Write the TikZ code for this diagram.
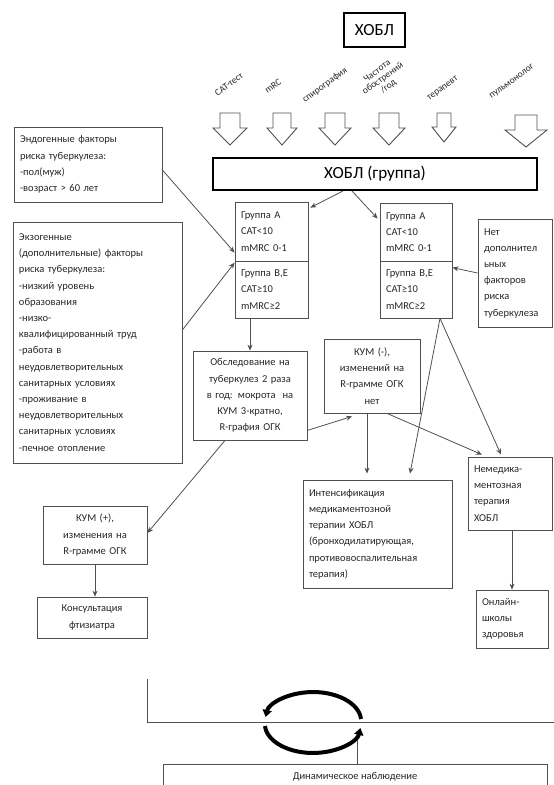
\documentclass[tikz,border=0pt]{standalone}
\usepackage{fontspec}
\setmainfont{Carlito}
\usetikzlibrary{arrows.meta}
\definecolor{linec}{HTML}{505050}
\definecolor{txt}{HTML}{262626}
\newcommand\fs{\fontsize{10.5}{16.2}\selectfont}
\newcommand\fsmall{\fontsize{9.5}{9.5}\selectfont}
\begin{document}
\begin{tikzpicture}[x=1pt,y=-1pt,
  bx/.style={draw=linec, line width=0.8pt, inner xsep=6pt, inner ysep=0pt, font=\fs, text=txt},
  thickbx/.style={draw=black, line width=2pt, inner sep=0pt, text=black, font=\fontsize{17}{20}\selectfont},
  arr/.style={draw=linec, line width=0.8pt, -{Stealth[length=6pt,width=5pt]}},
  ln/.style={draw=linec, line width=0.8pt},
  hollow/.style={draw=linec, line width=0.9pt, fill=white},
  lbl/.style={font=\fsmall, text=txt, rotate=36, align=center, inner sep=0pt}
]
\useasboundingbox (0,0) rectangle (554,785);

% top
\node[thickbx, minimum width=61pt, minimum height=34pt] (hobl) at (374.5,30) {ХОБЛ};

% rotated labels
\node[lbl] (l1) at (229,84) {CAT-тест};
\node[lbl] (l2) at (273,86) {mRC};
\node[lbl] (l3) at (325,85) {спирография};
\node[lbl] (l4) at (383,79) {Частота\\обострений\\/год};
\node[lbl] (l5) at (443,89) {терапевт};
\node[lbl] (l6) at (512,82) {пульмонолог};

% hollow arrows: cx/shaft half/head half/top/shaft bottom/tip
\foreach \cx/\sh/\hh/\tp/\sb/\tip in {230/10/17/113/128/145, 282/9/15/113/128/145, 335/10/16/113/128/145, 389/10/16/113/128/145, 444/7/12/113/127/142, 526/11/21/115/130/147}{
  \draw[hollow] (\cx-\sh,\tp) -- (\cx+\sh,\tp) -- (\cx+\sh,\sb) -- (\cx+\hh,\sb) -- (\cx,\tip) -- (\cx-\hh,\sb) -- (\cx-\sh,\sb) -- cycle;
}

\node[thickbx, minimum width=324pt, minimum height=32pt] (hg) at (375,174) {ХОБЛ (группа)};

% left factor boxes
\node[bx, align=left, text width=136pt, minimum height=75pt] (endo) at (88,164.5)
  {Эндогенные факторы\\риска туберкулеза:\\-пол(муж)\\-возраст > 60 лет};
\node[bx, align=left, text width=157pt, minimum height=241pt] (exo) at (97.5,342.5)
  {Экзогенные\\(дополнительные) факторы\\риска туберкулеза:\\-низкий уровень\\образования\\-низко-\\квалифицированный труд\\-работа в\\неудовлетворительных\\санитарных условиях\\-проживание в\\неудовлетворительных\\санитарных условиях\\-печное отопление};

% group boxes
\node[bx, align=left, text width=61pt, minimum height=59pt] (gaL) at (271.5,231.5) {Группа А\\CAT<10\\mMRC 0-1};
\node[bx, align=left, text width=61pt, minimum height=57pt] (gbL) at (271.5,289.5) {Группа В,Е\\CAT≥10\\mMRC≥2};
\node[bx, align=left, text width=60pt, minimum height=58pt] (gaR) at (416,232) {Группа А\\CAT<10\\mMRC 0-1};
\node[bx, align=left, text width=60pt, minimum height=57pt] (gbR) at (416,289.5) {Группа В,Е\\CAT≥10\\mMRC≥2};

\node[bx, align=left, text width=62pt, minimum height=108pt] (net) at (515,273)
  {Нет\\дополнител\\ьных\\факторов\\риска\\туберкулеза};

\node[bx, align=center, text width=102pt, minimum height=89pt] (obs) at (250,395.5)
  {Обследование на\\туберкулез 2 раза\\в год: мокрота ~на\\КУМ 3-кратно,\\R-графия ОГК};
\node[bx, align=center, text width=84pt, minimum height=74pt] (km) at (372,376)
  {КУМ (-),\\изменений на\\R-грамме ОГК\\нет};
\node[bx, align=left, text width=137pt, minimum height=108pt] (int) at (377.5,534)
  {Интенсификация\\медикаментозной\\терапии ХОБЛ\\(бронходилатирующая,\\противовоспалительная\\терапия)};
\node[bx, align=left, text width=72pt, minimum height=73pt] (nm) at (510,493.5)
  {Немедика-\\ментозная\\терапия\\ХОБЛ};
\node[bx, align=left, text width=60pt, minimum height=58pt] (onl) at (512,619)
  {Онлайн-\\школы\\здоровья};
\node[bx, align=center, text width=92pt, minimum height=58pt] (kp) at (95,535)
  {КУМ (+),\\изменения на\\R-грамме ОГК};
\node[bx, align=center, text width=98pt, minimum height=41pt] (kons) at (92,617.5)
  {Консультация\\фтизиатра};

% connectors
\draw[arr] ([xshift=-32pt]hg.south) -- ([xshift=2pt,yshift=-6pt]gaL.north east);
\draw[arr] ([xshift=-23pt]hg.south) -- ([xshift=-2pt,yshift=-16pt]gaR.north west);
\draw[arr] ([yshift=-5.5pt]endo.east) -- ([yshift=8pt]gbL.north west);
\draw[arr] ([yshift=12.5pt]exo.east) -- ([yshift=-2pt]gbL.north west);
\draw[arr] (net.west) -- ([yshift=-7pt]gbR.north east);
\draw[arr] (gbL.south -| obs.north) -- (obs.north);
\draw[arr] ([xshift=-25pt]obs.south) -- ([yshift=2pt]kp.east);
\draw[arr] ([yshift=10pt]obs.south east) -- ([xshift=-20pt,yshift=-3pt]km.south);
\draw[arr] ([xshift=-5pt]km.south) -- ([xshift=-5pt,yshift=6pt]km.south |- int.north);
\draw[arr] ([xshift=24pt]gbR.south) -- ([xshift=32.5pt,yshift=6pt]int.north);
\draw[arr] ([xshift=24pt]gbR.south) -- ([xshift=-9pt,yshift=2pt]nm.north);
\draw[arr] ([xshift=15pt]km.south) -- ([xshift=-28pt,yshift=2pt]nm.north);
\draw[arr] ([xshift=2pt]nm.south) -- ([xshift=2pt]nm.south |- onl.north);
\draw[arr] (kp.south) -- (kp.south |- kons.north);

% bottom
\coordinate (b1) at (147,679);
\coordinate (b2) at (147,722);
\coordinate (b3) at (554,722);
\coordinate (b4) at (357,733);
\draw[ln] (b1) -- (b2) -- (b3);
\node[bx, align=center, minimum width=384pt, minimum height=26pt, inner sep=0pt] (dyn) at (355,777)
  {Динамическое наблюдение};
\draw[ln] (b4) -- (b4 |- dyn.north);

% cycle arrows
\draw[black, line width=4pt, -{Triangle[length=7pt,width=9pt]}] (361,719) arc[start angle=-4, end angle=-172, x radius=48, y radius=29];
\draw[black, line width=4pt, -{Triangle[length=7pt,width=9pt]}] (265,726) arc[start angle=176, end angle=8, x radius=48, y radius=29];
\end{tikzpicture}
\end{document}
